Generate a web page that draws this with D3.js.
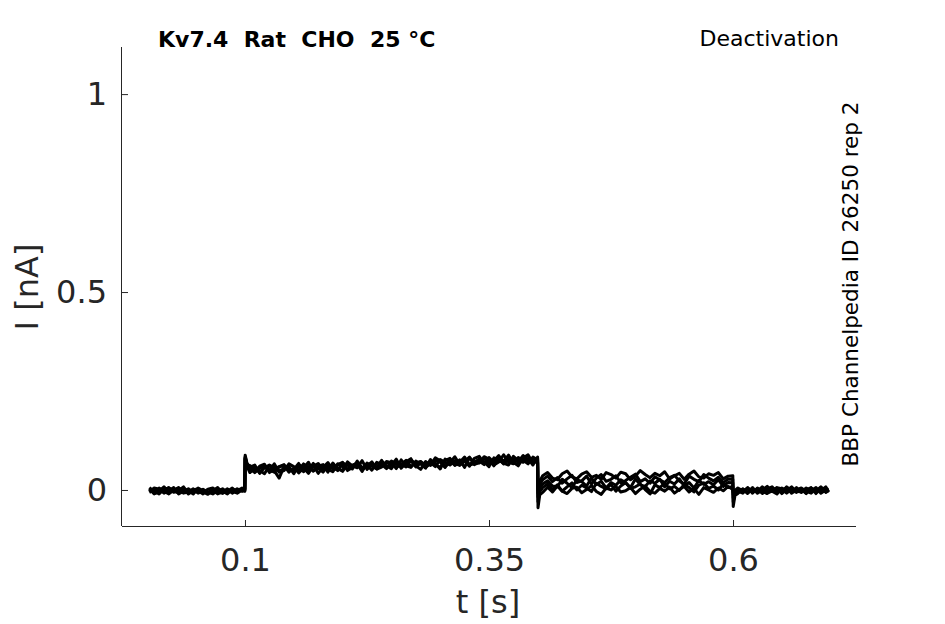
<!DOCTYPE html>
<html><head><meta charset="utf-8">
<script src="https://cdn.jsdelivr.net/npm/d3@7"></script>
<style>
html,body{margin:0;padding:0;background:#fff;}
svg text{font-family:"DejaVu Sans",sans-serif;}
</style></head>
<body>
<svg id="chart" width="945" height="624"></svg>
<script>
// ---- data (time in s, current in pA) ----
const times = [
0.002,0.007,0.012,0.017,0.022,0.027,0.032,0.037,0.042,0.047,
0.052,0.057,0.062,0.067,0.072,0.077,0.082,0.087,0.092,0.097,
0.0998,0.1002,0.102,0.105,0.110,0.115,0.120,0.125,0.130,0.135,
0.140,0.145,0.150,0.155,0.160,0.165,0.170,0.175,0.180,0.185,
0.190,0.195,0.200,0.205,0.210,0.215,0.220,0.225,0.230,0.235,
0.240,0.245,0.250,0.255,0.260,0.265,0.270,0.275,0.280,0.285,
0.290,0.295,0.300,0.305,0.310,0.315,0.320,0.325,0.330,0.335,
0.340,0.345,0.350,0.355,0.360,0.365,0.370,0.375,0.380,0.385,
0.390,0.395,0.3998,0.4002,0.402,0.405,0.410,0.415,0.420,0.425,
0.430,0.435,0.440,0.445,0.450,0.455,0.460,0.465,0.470,0.475,
0.480,0.485,0.490,0.495,0.500,0.505,0.510,0.515,0.520,0.525,
0.530,0.535,0.540,0.545,0.550,0.555,0.560,0.565,0.570,0.575,
0.580,0.585,0.590,0.595,0.5998,0.6002,0.602,0.605,0.610,0.615,
0.620,0.625,0.630,0.635,0.640,0.645,0.650,0.655,0.660,0.665,
0.670,0.675,0.680,0.685,0.690,0.695,0.698
];
const sweep1 = [
6,-3,-10,2,5,-6,-2,8,-8,0,
3,-5,-11,-2,6,-8,-3,5,-6,2,
0,88,68,58,63,42,59,48,66,45,
49,66,59,43,55,70,48,60,64,45,
68,53,49,71,61,56,74,52,64,57,
75,58,62,78,55,68,73,61,52,72,
62,81,74,59,69,84,64,73,60,80,
85,67,77,61,82,73,88,68,64,81,
89,68,80,0,22,36,44,30,26,41,
48,33,28,40,46,32,37,27,44,39,
30,45,41,26,35,49,39,31,42,36,
46,28,36,42,27,40,48,33,30,41,
37,44,28,35,36,-42,-14,-9,3,-6,
6,-8,0,9,-3,-10,5,-2,8,-6,
2,-9,5,-3,6,-5,0
];
const sweep2 = [
-5,5,2,-8,-2,6,-10,-3,3,-6,
-2,-10,2,5,-5,-8,0,-6,3,-3,
2,82,62,50,46,60,65,44,52,59,
64,48,52,67,46,59,63,42,57,69,
52,64,70,49,57,66,47,68,60,53,
58,72,69,54,76,61,57,73,66,55,
77,64,57,74,80,62,70,83,63,67,
68,84,78,63,71,89,70,66,82,75,
66,83,76,-8,14,26,35,21,31,17,
28,37,19,23,35,15,30,39,22,27,
36,18,24,32,40,21,28,17,33,26,
19,31,37,23,15,35,27,21,39,30,
23,32,18,28,27,-30,-10,-3,-8,5,
-5,3,-9,2,8,-6,-2,6,-8,0,
5,-3,-8,3,-2,8,-5
];
const sweep3 = [
2,-8,5,-3,-10,0,6,-5,-2,-10,
5,-2,-6,-8,2,-3,-10,2,-2,5,
-2,78,60,44,56,49,41,62,58,48,
53,60,41,62,57,49,67,55,45,63,
57,49,68,63,53,73,56,64,50,70,
64,54,73,66,59,71,79,58,68,62,
73,67,53,78,71,64,76,57,81,70,
78,71,59,81,75,68,63,85,74,70,
80,63,83,-18,6,15,23,10,8,27,
17,6,26,21,10,30,14,22,5,19,
12,26,18,6,28,13,9,23,17,27,
8,22,15,28,10,19,5,24,14,21,
13,26,9,19,18,-20,-8,-6,2,-9,
3,-2,6,-8,-3,5,-9,2,-5,6,
-6,0,6,-9,3,-2,2
];
const sweep4 = [
-6,0,-3,8,-5,-2,-8,3,-10,-2,
-6,2,-5,-10,-2,3,-6,-3,-8,0,
3,84,66,56,59,43,56,63,49,30,
59,52,46,64,56,42,60,67,50,57,
63,56,47,67,59,66,54,61,71,53,
69,61,54,72,65,58,76,64,71,57,
66,74,70,57,77,67,62,73,83,64,
70,80,66,74,87,67,77,71,61,82,
73,81,71,-30,-4,6,15,1,13,-3,
8,18,0,12,5,-4,17,9,3,14,
-3,10,19,4,8,15,1,-10,13,6,
17,3,9,-1,14,6,-5,12,18,4,
10,0,15,6,9,-12,-5,2,-5,6,
-8,5,-3,-9,3,0,-6,8,-2,-5,
3,-8,2,-3,8,-6,-2
];
const sweep5 = [
3,-10,-5,-2,6,-3,5,-8,-5,3,
-8,-3,-6,0,-10,-5,3,-8,0,-2,
-3,80,58,62,44,55,60,51,45,58,
62,45,55,50,66,57,48,56,62,52,
46,66,59,53,63,68,52,60,67,56,
61,69,66,57,64,75,59,68,72,62,
69,59,77,70,63,74,67,78,64,71,
73,64,82,70,78,66,81,75,71,87,
76,72,69,-45,-12,-6,7,-5,10,-3,
-9,4,7,-7,1,11,-4,-11,5,0,
9,-5,-2,6,-9,2,10,-4,-8,4,
-3,7,-8,1,9,-5,4,-11,6,0,
-6,5,-2,9,1,-6,-1,5,-2,-5,
0,-6,8,-5,-2,6,3,-8,2,-3,
-5,5,-2,6,-8,0,3
];
const sweeps = [sweep1, sweep2, sweep3, sweep4, sweep5];
const xTicks = [0.1, 0.35, 0.6];
const yTicks = [0, 0.5, 1];
const xDomain = [-0.026, 0.726];
const yDomain = [-0.091, 1.119];
const titleText = "Kv7.4\u00A0\u00A0Rat\u00A0\u00A0CHO\u00A0\u00A025\u00A0°C";
const protocolText = "Deactivation";
const sourceText = "BBP Channelpedia ID 26250 rep 2";

// ---- layout ----
const svg = d3.select("#chart");
const L = 122, R = 856, T = 47, B = 526;
const x = d3.scaleLinear().domain(xDomain).range([L, R]);
const y = d3.scaleLinear().domain(yDomain).range([B, T]);
const axisColor = "#262626";

// traces
const line = d3.line().x((d, i) => x(times[i])).y(d => y(d / 1000));
svg.append("g").selectAll("path").data(sweeps).join("path")
  .attr("d", d => line(d))
  .attr("fill", "none").attr("stroke", "#000").attr("stroke-width", 3)
  .attr("stroke-linejoin", "round");

// x axis
const gx = svg.append("g").attr("transform", `translate(0,${B})`)
  .call(d3.axisBottom(x).tickValues(xTicks).tickSize(-6).tickPadding(22)
    .tickFormat(d => String(d)));
gx.select(".domain").attr("d", `M${L},0.5H${R}`).attr("stroke", axisColor);
gx.selectAll(".tick line").attr("stroke", axisColor);
gx.selectAll(".tick text").attr("fill", axisColor).attr("font-size", 32)
  .attr("font-family", "DejaVu Sans");

// y axis
const gy = svg.append("g").attr("transform", `translate(${L},0)`)
  .call(d3.axisLeft(y).tickValues(yTicks).tickSize(-6).tickPadding(15)
    .tickFormat(d => String(d)));
gy.select(".domain").attr("d", `M-0.5,${T}V${B}`).attr("stroke", axisColor);
gy.selectAll(".tick line").attr("stroke", axisColor);
gy.selectAll(".tick text").attr("fill", axisColor).attr("font-size", 32)
  .attr("font-family", "DejaVu Sans");

// axis labels
svg.append("text").attr("x", 488).attr("y", 613)
  .attr("text-anchor", "middle").attr("fill", axisColor).attr("font-size", 32)
  .text("t [s]");
svg.append("text").attr("transform", `translate(38,287) rotate(-90)`)
  .attr("text-anchor", "middle").attr("fill", axisColor).attr("font-size", 32)
  .text("I [nA]");

// titles
svg.append("text").attr("x", 158).attr("y", 46.5).attr("font-size", 22)
  .attr("font-weight", "bold").attr("fill", "#000").text(titleText);
svg.append("text").attr("x", 839).attr("y", 46).attr("text-anchor", "end")
  .attr("font-size", 22).attr("fill", "#000").text(protocolText);
svg.append("text").attr("transform", `translate(858,284) rotate(-90)`)
  .attr("text-anchor", "middle").attr("font-size", 21.5).attr("fill", "#000")
  .text(sourceText);
</script>
</body></html>
